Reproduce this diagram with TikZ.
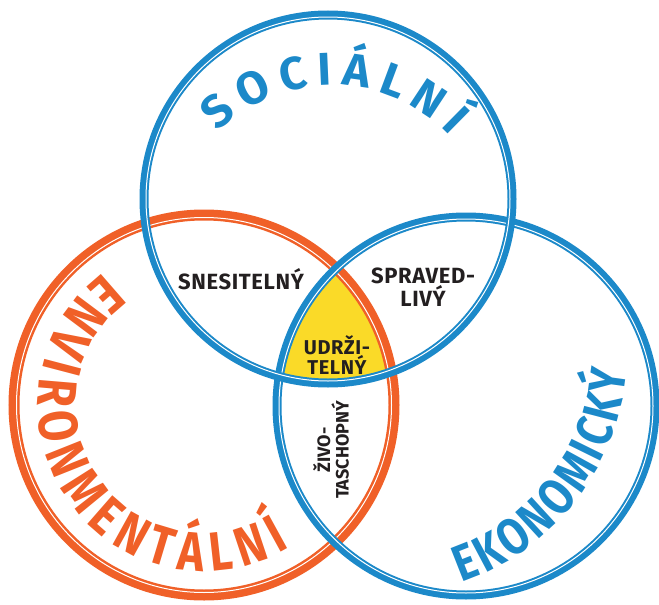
\documentclass[tikz,border=0pt]{standalone}
\usepackage{fontspec}
\setmainfont{Fira Sans}
\newfontfamily\labelfont{Fira Sans}[LetterSpace=3]
\newfontfamily\namefont{Fira Sans}[FakeStretch=0.82]
\usepackage{tikz}
\usetikzlibrary{calc,positioning,decorations.text}

\definecolor{socblue}{RGB}{28,137,201}
\definecolor{envorange}{RGB}{240,96,40}
\definecolor{coreyellow}{RGB}{250,218,40}
\definecolor{ink}{RGB}{35,31,32}

\tikzset{
  ring/.style={line width=9pt},
  ringgap/.style={draw=white, line width=1pt},
  region/.style={font=\labelfont\bfseries\fontsize{22}{23}\selectfont, text=ink, align=center, inner sep=0pt},
  arcname/.style={decorate, decoration={text along path, text align=fit to path, text={#1}}},
}

\begin{document}
\begin{tikzpicture}[x=1pt,y=-1pt]
			\useasboundingbox (0,0) rectangle (659,605);

			\coordinate (soc) at (328,199);
			\coordinate (env) at (204,405);
			\coordinate (eko) at (466,406);

			% common part of the three circles
			\begin{scope}
				\clip (soc) circle[radius=184];
				\clip (env) circle[radius=190];
				\fill[coreyellow] (eko) circle[radius=189];
			\end{scope}

			\draw[ring, draw=envorange, line width=11pt] (env) circle[radius=190];
			\draw[ringgap] (env) circle[radius=187.5];
			\draw[ring, draw=socblue] (eko) circle[radius=189];
			\draw[ringgap] (eko) circle[radius=187];
			\draw[ring, draw=socblue] (soc) circle[radius=184];
			\draw[ringgap] (soc) circle[radius=182];

			\begin{scope}[every node/.style={region}]
				\node (snes) at (241,279) {SNESITELNÝ};
				\node (sprav) at (423,287) {SPRAVED-\\LIVÝ};
				\node[font=\labelfont\bfseries\fontsize{20}{19}\selectfont] (udrz) at (337,355) {UDRŽI-\\TELNÝ};
				\node[rotate=90, font=\bfseries\fontsize{18}{17}\selectfont] (zivo) at (331,450) {ŽIVO-\\TASCHOPNÝ};
			\end{scope}

			% big names round the circles
			\coordinate (socarc) at (332,246);
			\coordinate (ekoarc) at (381,349);
			\path[arcname={|\color{socblue}\bfseries\fontsize{46}{46}\selectfont|SOCIÁLNÍ}]
				($(socarc)+(225:161)$) arc[start angle=225, end angle=317, radius=161];
			\path[arcname={|\color{envorange}\namefont\bfseries\fontsize{55}{55}\selectfont|ENVIRONMENTÁLNÍ}]
				($(env)+(233:166)$) arc[start angle=233, end angle=59, radius=166];
			\path[arcname={|\color{socblue}\namefont\bfseries\fontsize{51}{51}\selectfont|EKONOMICKÝ}]
				($(ekoarc)+(71:247)$) arc[start angle=71, end angle=5, radius=247];
\end{tikzpicture}
\end{document}
